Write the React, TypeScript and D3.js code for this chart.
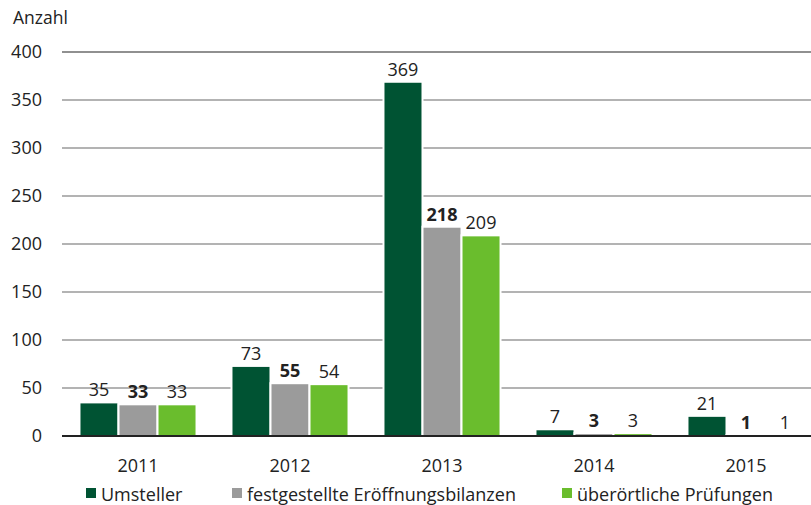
import * as d3 from "d3";

const years = ["2011", "2012", "2013", "2014", "2015"];
const seriesNames = ["Umsteller", "festgestellte Eröffnungsbilanzen", "überörtliche Prüfungen"];
const umsteller = [35, 73, 369, 7, 21];
const eroeffnungsbilanzen = [33, 55, 218, 3, 1];
const pruefungen = [33, 54, 209, 3, 1];
const yTicks = [0, 50, 100, 150, 200, 250, 300, 350, 400];

const colors = ["#005333", "#9b9b9b", "#6abd2d"];
const legendX = [86, 232, 562];
const font = "'Open Sans', sans-serif";

export default function App() {
  const width = 811;
  const height = 505;
  const values = [umsteller, eroeffnungsbilanzen, pruefungen];

  const x0 = d3.scaleBand().domain(years).range([62, 822]).paddingInner(0.23).paddingOuter(0.115);
  const x1 = d3.scaleBand().domain(seriesNames).range([0, x0.bandwidth()]);
  const y = d3.scaleLinear().domain([0, 400]).range([436, 52]);

  return (
    <svg width={width} height={height} style={{ position: "absolute", left: 0, top: 0, fontFamily: font }}>
      <rect width={width} height={height} fill="#fff" />
      <text x={13} y={24} fontSize={17.5} fill="#222">Anzahl</text>

      {yTicks.map((t) => (
        <g key={t}>
          {t !== 0 && (
            <line x1={62} x2={811} y1={y(t)} y2={y(t)}
              stroke={t === 400 ? "#222" : "#9a9a9a"} strokeWidth={t === 400 ? 1.2 : 1.5} />
          )}
          <text x={42} y={y(t)} dy="0.36em" textAnchor="end" fontSize={18} fill="#222">{t}</text>
        </g>
      ))}

      {years.map((yr, i) => (
        <g key={yr} transform={`translate(${x0(yr)},0)`}>
          {seriesNames.map((s, j) => {
            const v = values[j][i];
            const bx = x1(s)!;
            return (
              <g key={s}>
                <rect x={bx} y={y(v)} width={x1.bandwidth()} height={436 - y(v)}
                  fill={colors[j]} stroke="#fff" strokeWidth={2} />
                <text x={bx + x1.bandwidth() / 2} y={y(v) - 6} textAnchor="middle" fontSize={18}
                  fontWeight={j === 1 ? "bold" : "normal"} fill="#222">{v}</text>
              </g>
            );
          })}
        </g>
      ))}

      <line x1={62} x2={811} y1={y(0)} y2={y(0)} stroke="#222" strokeWidth={2} />

      {years.map((yr) => (
        <text key={yr} x={x0(yr)! + x0.bandwidth() / 2} y={472} textAnchor="middle" fontSize={18} fill="#222">{yr}</text>
      ))}

      {seriesNames.map((s, j) => (
        <g key={s} transform={`translate(${legendX[j]},0)`}>
          <rect x={0} y={488} width={10} height={10} fill={colors[j]} />
          <text x={15} y={501} fontSize={18} fill="#222">{s}</text>
        </g>
      ))}
    </svg>
  );
}
